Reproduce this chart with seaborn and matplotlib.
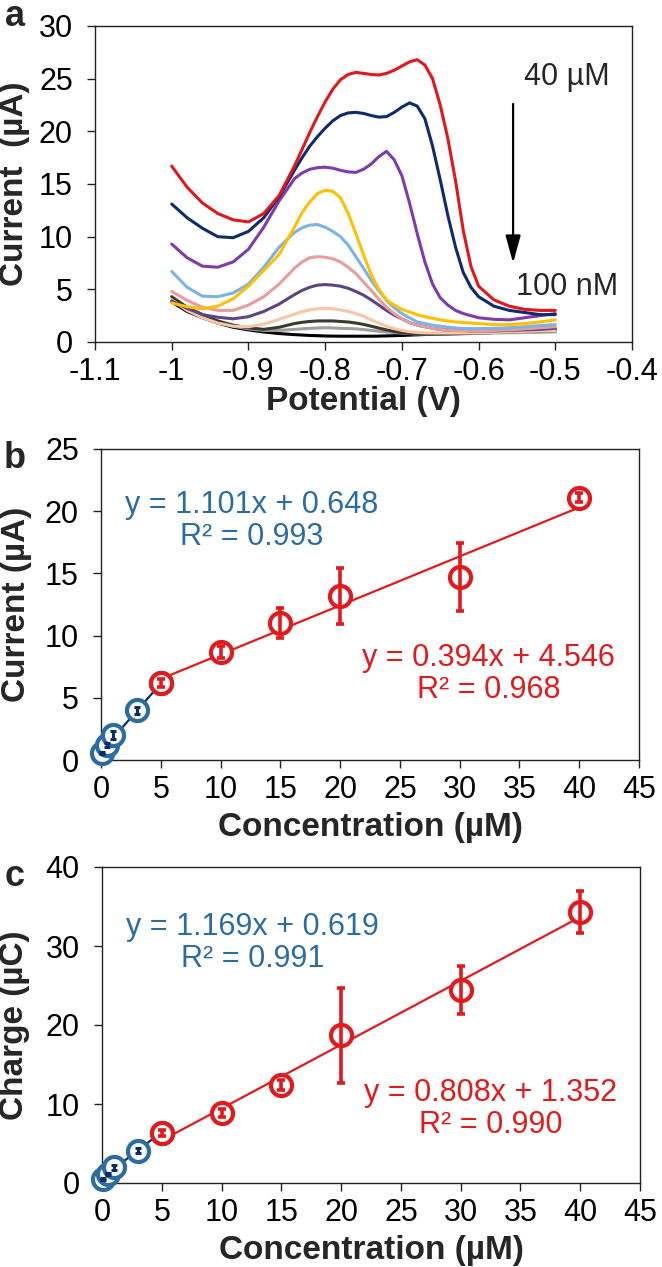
import numpy as np
import pandas as pd
import matplotlib.pyplot as plt
import seaborn as sns

# ---- panel a: square wave voltammograms ----
potential = [-1.00, -0.98, -0.96, -0.94, -0.92, -0.90, -0.88, -0.86, -0.84,
             -0.83, -0.82, -0.81, -0.80, -0.79, -0.78, -0.77, -0.76, -0.75, -0.74,
             -0.73, -0.72, -0.71, -0.70, -0.69, -0.68, -0.67, -0.66, -0.65, -0.64,
             -0.63, -0.62, -0.61, -0.60, -0.58, -0.56, -0.54, -0.52, -0.50]

curve_blank = [3.8, 2.9, 2.3, 1.8, 1.4, 1.15, 0.95, 0.8, 0.7,
               0.66, 0.62, 0.6, 0.57, 0.56, 0.55, 0.55, 0.55, 0.55, 0.55, 0.56, 0.58, 0.6, 0.62,
               0.65, 0.68, 0.71, 0.75, 0.8, 0.85, 0.9, 0.95, 1.0, 1.05,
               1.1, 1.12, 1.15, 1.18, 1.2]
curve_01 = [4.0, 3.1, 2.4, 1.9, 1.5, 1.25, 1.1, 1.1, 1.2,
            1.25, 1.3, 1.33, 1.35, 1.33, 1.3, 1.28, 1.25, 1.18, 1.1, 1.02, 0.95, 0.9, 0.85,
            0.8, 0.75, 0.74, 0.74, 0.74, 0.75, 0.76, 0.78, 0.8, 0.82,
            0.85, 0.88, 0.9, 0.93, 0.95]
curve_05 = [4.3, 3.3, 2.6, 2.0, 1.6, 1.35, 1.2, 1.4, 1.75,
            1.87, 1.95, 2.0, 2.0, 2.0, 1.95, 1.9, 1.8, 1.67, 1.5, 1.32, 1.15, 1.0, 0.9,
            0.82, 0.76, 0.74, 0.74, 0.75, 0.76, 0.78, 0.8, 0.82, 0.85,
            0.9, 0.95, 1.0, 1.05, 1.1]
curve_1 = [4.0, 3.0, 2.3, 1.8, 1.5, 1.45, 1.7, 2.15, 2.65,
           2.88, 3.05, 3.15, 3.2, 3.15, 3.05, 2.9, 2.7, 2.45, 2.1, 1.8, 1.5, 1.28, 1.1,
           0.98, 0.9, 0.87, 0.85, 0.85, 0.85, 0.85, 0.85, 0.86, 0.87,
           0.9, 0.95, 1.0, 1.05, 1.1]
curve_3 = [3.9, 3.2, 2.6, 2.35, 2.2, 2.4, 2.9, 3.6, 4.5,
           4.9, 5.2, 5.4, 5.45, 5.4, 5.3, 5.1, 4.8, 4.45, 4.0, 3.5, 3.0, 2.55, 2.2,
           1.85, 1.6, 1.45, 1.3, 1.2, 1.15, 1.1, 1.1, 1.05, 1.05,
           1.05, 1.1, 1.15, 1.2, 1.3]
curve_5 = [4.8, 3.95, 3.3, 3.0, 3.0, 3.5, 4.3, 5.5, 7.0,
           7.6, 8.0, 8.1, 8.05, 7.9, 7.6, 7.1, 6.5, 5.7, 4.9, 4.05, 3.3, 2.7, 2.2,
           1.85, 1.6, 1.45, 1.3, 1.2, 1.12, 1.08, 1.05, 1.05, 1.05,
           1.1, 1.15, 1.25, 1.35, 1.45]
curve_10 = [6.7, 5.2, 4.35, 4.3, 4.65, 5.5, 7.1, 9.0, 10.4,
            10.85, 11.1, 11.15, 10.9, 10.5, 10.0, 9.2, 8.1, 7.0, 5.85, 4.85, 3.95, 3.25, 2.7,
            2.3, 1.9, 1.75, 1.6, 1.5, 1.4, 1.33, 1.28, 1.27, 1.27,
            1.3, 1.35, 1.45, 1.55, 1.65]
curve_15 = [3.7, 3.35, 3.15, 3.4, 4.1, 5.3, 6.8, 8.3, 10.9,
            12.3, 13.3, 14.1, 14.4, 14.3, 13.7, 12.2, 10.3, 8.3, 6.4, 5.0, 4.0, 3.5, 3.1,
            2.85, 2.6, 2.4, 2.25, 2.1, 2.0, 1.9, 1.85, 1.8, 1.75,
            1.65, 1.65, 1.75, 1.9, 2.1]
curve_20 = [9.3, 8.0, 7.2, 7.1, 7.6, 8.8, 10.9, 13.4, 15.5,
            16.05, 16.4, 16.55, 16.6, 16.5, 16.3, 16.15, 16.1, 16.4, 16.9, 17.6, 18.1, 17.3, 15.8,
            13.2, 10.3, 7.6, 5.5, 4.2, 3.5, 3.0, 2.7, 2.5, 2.3,
            2.15, 2.1, 2.3, 2.5, 2.7]
curve_30 = [13.1, 11.8, 10.8, 10.0, 9.9, 10.5, 11.8, 13.8, 16.3,
            17.5, 18.6, 19.5, 20.3, 21.0, 21.5, 21.75, 21.8, 21.7, 21.5, 21.35, 21.4, 21.8, 22.3,
            22.7, 22.4, 21.2, 18.6, 15.4, 12.0, 9.0, 6.6, 5.2, 4.3,
            3.4, 3.0, 2.8, 2.6, 2.6]
curve_40 = [16.7, 14.7, 13.2, 12.2, 11.6, 11.4, 12.2, 13.9, 16.7,
            18.3, 19.9, 21.4, 22.8, 24.0, 24.9, 25.4, 25.6, 25.5, 25.4, 25.35, 25.5, 25.8, 26.2,
            26.6, 26.8, 26.3, 25.0, 22.5, 19.3, 15.3, 10.6, 7.2, 5.3,
            4.0, 3.4, 3.1, 3.0, 3.0]

curve_names = ['blank', '0.1', '0.5', '1', '3', '5', '10', '15', '20', '30', '40']
curves = [curve_blank, curve_01, curve_05, curve_1, curve_3, curve_5,
          curve_10, curve_15, curve_20, curve_30, curve_40]
curve_colors = ['#000000', '#9e9e9e', '#3a3a30', '#f8c6a4', '#5c4586', '#e89c9c',
                '#7ab4e4', '#ffc000', '#7e3baf', '#102a6e', '#e2161b']

xticks_a = [-1.1, -1.0, -0.9, -0.8, -0.7, -0.6, -0.5, -0.4]
xticklabels_a = ['-1.1', '-1', '-0.9', '-0.8', '-0.7', '-0.6', '-0.5', '-0.4']

# ---- panels b and c: calibration data ----
conc_low = [0.1, 0.5, 1, 3, 5]
conc_high = [5, 10, 15, 20, 30, 40]

current_low = [0.55, 1.2, 2.0, 4.0, 6.2]
current_low_err = [0.1, 0.15, 0.3, 0.3, 0.3]
current_high = [6.2, 8.7, 11.0, 13.2, 14.7, 21.1]
current_high_err = [0.3, 0.5, 1.2, 2.25, 2.75, 0.4]

charge_low = [0.5, 1.1, 2.0, 4.1, 6.3]
charge_low_err = [0.1, 0.15, 0.3, 0.3, 0.3]
charge_high = [6.3, 8.9, 12.4, 18.7, 24.4, 34.3]
charge_high_err = [0.4, 0.5, 0.6, 6.0, 3.05, 2.6]

fit_b_low = (1.101, 0.648, 0.993)
fit_b_high = (0.394, 4.546, 0.968)
fit_c_low = (1.169, 0.619, 0.991)
fit_c_high = (0.808, 1.352, 0.990)

BLUE = '#2b6ca3'
NAVY = '#0b2c6b'
RED = '#e3191c'

sns.set_style("ticks")
plt.rcParams['font.family'] = ['Liberation Sans', 'DejaVu Sans']
plt.rcParams['axes.unicode_minus'] = False

W, H = 662, 1267
fig = plt.figure(figsize=(W / 100, H / 100), dpi=100)


def box(left, right, top, bottom):
    return [left / W, 1 - bottom / H, (right - left) / W, (bottom - top) / H]


def style_axes(ax):
    for s in ax.spines.values():
        s.set_color('#222222')
        s.set_linewidth(1.0)
    ax.tick_params(axis='both', direction='out', length=5.5, width=1.0,
                   labelsize=TICK_FS, colors='#222222', labelcolor='black')
    ax.tick_params(axis='x', pad=5)
    ax.tick_params(axis='y', pad=10.5)


TICK_FS = 22
LABEL_FS = 24
NOTE_FS = 22

# ---------------- panel a ----------------
ax_a = fig.add_axes(box(95, 632, 26, 342))
df_a = pd.DataFrame({
    'potential': np.tile(potential, len(curves)),
    'current': np.concatenate(curves),
    'conc': np.repeat(curve_names, len(potential)),
})
sns.lineplot(data=df_a, x='potential', y='current', hue='conc', hue_order=curve_names,
             palette=curve_colors, sort=False, estimator=None, legend=False,
             linewidth=2.2, solid_joinstyle='round', ax=ax_a)
ax_a.set_xlim(-1.1, -0.4)
ax_a.set_ylim(0, 30)
ax_a.set_xticks(xticks_a)
ax_a.set_xticklabels(xticklabels_a)
ax_a.set_yticks(range(0, 31, 5))
style_axes(ax_a)
ax_a.set_xlabel('Potential (V)', fontsize=LABEL_FS, fontweight='bold')
ax_a.set_ylabel('Current  (µA)', fontsize=LABEL_FS, fontweight='bold')
ax_a.xaxis.set_label_coords(0.5, -0.139)
ax_a.yaxis.set_label_coords(-0.121, 0.5)
ax_a.text(-0.485, 25.2, '40 µM', fontsize=NOTE_FS, ha='center', va='center')
ax_a.text(-0.485, 5.25, '100 nM', fontsize=NOTE_FS, ha='center', va='center')
ax_a.annotate('', xy=(-0.555, 7.5), xytext=(-0.555, 22.6),
              arrowprops=dict(arrowstyle='-|>,head_length=1.2,head_width=0.33',
                              color='black', lw=1.6, mutation_scale=14,
                              shrinkA=0, shrinkB=0))


# ---------------- panels b, c ----------------
def calib_panel(ax, y_low, e_low, y_high, e_high, fit_low, fit_high,
                ylim, ystep, ylabel, txt_low_xy, txt_high_xy):
    # fit lines
    xl = [conc_low[0], conc_low[-1]]
    xh = [conc_high[0], conc_high[-1]]
    sns.lineplot(x=xh, y=[fit_high[0] * v + fit_high[1] for v in xh],
                 color=RED, linewidth=1.6, ax=ax, zorder=2)
    sns.lineplot(x=xl, y=[fit_low[0] * v + fit_low[1] for v in xl],
                 color=NAVY, linewidth=1.6, ax=ax, zorder=2)
    # markers
    sns.scatterplot(x=conc_low, y=y_low, marker='o', s=230, facecolor='white',
                    edgecolor=BLUE, linewidth=3.0, ax=ax, zorder=3, clip_on=False)
    sns.scatterplot(x=conc_high, y=y_high, marker='o', s=230, facecolor='white',
                    edgecolor=RED, linewidth=3.0, ax=ax, zorder=4, clip_on=False)
    ax.errorbar(conc_low[:-1], y_low[:-1], yerr=e_low[:-1], fmt='none', ecolor=NAVY,
                elinewidth=2.2, capsize=2.5, capthick=2.2, zorder=5, clip_on=False)
    ax.errorbar(conc_high, y_high, yerr=e_high, fmt='none', ecolor=RED,
                elinewidth=2.6, capsize=3.2, capthick=2.6, zorder=5)
    ax.set_xlim(0, 45)
    ax.set_ylim(*ylim)
    ax.set_xticks(range(0, 46, 5))
    ax.set_yticks(np.arange(ylim[0], ylim[1] + 0.1, ystep))
    style_axes(ax)
    ax.set_xlabel('Concentration (µM)', fontsize=LABEL_FS, fontweight='bold')
    ax.set_ylabel(ylabel, fontsize=LABEL_FS, fontweight='bold')
    ax.text(*txt_low_xy, f'y = {fit_low[0]:.3f}x + {fit_low[1]:.3f}\nR² = {fit_low[2]:.3f}',
            color=BLUE, fontsize=NOTE_FS, ha='center', va='center', multialignment='center',
            linespacing=1.1)
    ax.text(*txt_high_xy, f'y = {fit_high[0]:.3f}x + {fit_high[1]:.3f}\nR² = {fit_high[2]:.3f}',
            color=RED, fontsize=NOTE_FS, ha='center', va='center', multialignment='center',
            linespacing=1.1)


ax_b = fig.add_axes(box(101, 639, 449, 760))
calib_panel(ax_b, current_low, current_low_err, current_high, current_high_err,
            fit_b_low, fit_b_high, (0, 25), 5, 'Current (µA)', (12.6, 19.2), (32.4, 6.9))
ax_b.xaxis.set_label_coords(0.5, -0.167)
ax_b.yaxis.set_label_coords(-0.128, 0.5)

ax_c = fig.add_axes(box(102, 640, 867, 1183))
calib_panel(ax_c, charge_low, charge_low_err, charge_high, charge_high_err,
            fit_c_low, fit_c_high, (0, 40), 10, 'Charge (µC)', (12.6, 30.4), (32.5, 9.4))
ax_c.xaxis.set_label_coords(0.5, -0.165)
ax_c.yaxis.set_label_coords(-0.134, 0.5)

for letter, (px, py) in zip(['a', 'b', 'c'], [(15, 16), (15, 458), (15, 876)]):
    fig.text(px / W, 1 - py / H, letter, fontsize=26, fontweight='bold',
             ha='center', va='center')

fig.savefig('out.png', dpi=100)
plt.close(fig)
